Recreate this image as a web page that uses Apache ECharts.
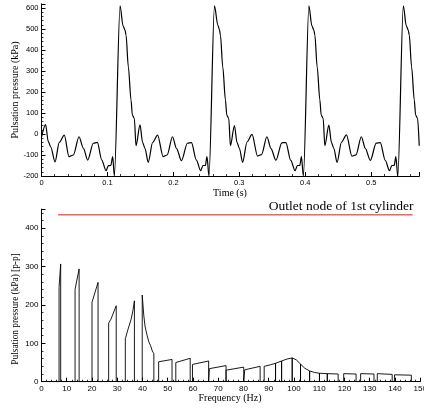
<!DOCTYPE html>
<html>
<head>
<meta charset="utf-8">
<script src="https://cdn.jsdelivr.net/npm/echarts@6/dist/echarts.min.js"></script>
<style>
  html, body { margin: 0; padding: 0; background: #fff; }
  #chart { width: 424px; height: 408px; }
</style>
</head>
<body>
<div id="chart"></div>
<script>
// Pressure pulsation at the outlet node, time history (s, kPa)
const timeS = [
  0.0000, 0.0062, 0.0102, 0.0140, 0.0205, 0.0270, 0.0346, 0.0417, 0.0483, 0.0569,
  0.0634, 0.0701, 0.0786, 0.0847, 0.0914, 0.0979, 0.1014, 0.1050, 0.1080, 0.1105,
  0.1192, 0.1237, 0.1267, 0.1282, 0.1317, 0.1358, 0.1378, 0.1408, 0.1433, 0.1494,
  0.1534, 0.1569, 0.1619, 0.1685, 0.1761, 0.1845, 0.1905, 0.1987, 0.2047, 0.2123,
  0.2213, 0.2274, 0.2349, 0.2414, 0.2449, 0.2485, 0.2510, 0.2540,
  0.2624, 0.2674, 0.2699, 0.2714, 0.2749, 0.2790, 0.2810, 0.2840, 0.2865, 0.2926,
  0.2966, 0.3001, 0.3051, 0.3117, 0.3193, 0.3277, 0.3337, 0.3419, 0.3479, 0.3555,
  0.3645, 0.3706, 0.3781, 0.3846, 0.3881, 0.3917, 0.3942, 0.3972,
  0.4056, 0.4101, 0.4131, 0.4146, 0.4181, 0.4222, 0.4242, 0.4272, 0.4297, 0.4358,
  0.4398, 0.4433, 0.4483, 0.4549, 0.4625, 0.4709, 0.4769, 0.4851, 0.4911, 0.4987,
  0.5077, 0.5138, 0.5213, 0.5278, 0.5313, 0.5349, 0.5374, 0.5404,
  0.5488, 0.5533, 0.5563, 0.5578, 0.5613, 0.5654, 0.5674, 0.5704, 0.5729
];
const pressureKPa = [
  -15, 45, -35, -62, -133, -40, -5, -108, -100, -13,
  -67, -124, -44, -40, -124, -175, -151, -150, -108, -200,
  610, 515, 495, 471, 320, 162, 90, 75, -56, 43,
  -41, -68, -135, -41, -5, -108, -100, -13, -68, -127,
  -44, -41, -124, -175, -150, -150, -108, -200,
  610, 519, 497, 471, 320, 162, 90, 75, -56, 40,
  -41, -68, -135, -38, -2, -105, -98, -13, -68, -125,
  -42, -41, -126, -175, -150, -150, -108, -200,
  610, 515, 495, 471, 320, 162, 90, 75, -56, 42,
  -41, -68, -135, -40, -4, -106, -99, -13, -68, -126,
  -43, -41, -125, -175, -150, -150, -108, -200,
  610, 515, 495, 471, 320, 162, 90, 75, -56
];

// Peak-to-peak spectrum (Hz, kPa)
const freqHz = [
  0,
  6.96, 6.96, 7.6, 7.6,
  13.3, 13.3, 14.9, 14.9,
  20.0, 20.0, 22.4, 22.4,
  26.6, 26.6, 27.5, 29.6, 29.6,
  33.2, 33.2, 34.2, 35.5, 36.2, 36.8, 36.8,
  39.9, 39.9, 40.2, 40.5, 41.0, 41.7, 42.5, 43.2, 43.9, 44.5, 44.5,
  46.4, 46.4, 51.7, 51.7,
  53.2, 53.2, 58.9, 58.9,
  59.8, 59.8, 66.2, 66.2,
  66.5, 66.5, 73.1, 73.1,
  73.1, 80.1, 80.1,
  80.5, 80.5, 86.6, 86.6,
  88.2, 88.2, 90.6, 92.7, 92.7,
  92.7, 95.1, 95.1,
  95.1, 97.2, 99.3, 99.3,
  99.3, 100.9, 102.6, 102.6,
  102.6, 104.3, 106.2, 106.2,
  106.2, 108.2, 110.1, 110.1,
  110.1, 113.2, 113.2, 113.2, 117.5, 117.5,
  119.7, 119.7, 124.6, 124.6,
  126.4, 126.4, 131.7, 131.7,
  133.0, 133.0, 138.9, 138.9,
  139.8, 139.8, 146.5, 146.5,
  150
];
const ampKPa = [
  0,
  0, 246, 307, 0,
  0, 241, 294, 0,
  0, 207, 259, 0,
  0, 153, 163, 198, 0,
  0, 112, 135, 163, 185, 211, 0,
  0, 226, 200, 174, 145, 124, 104, 94, 80, 73, 0,
  0, 52, 58, 0,
  0, 50, 61, 0,
  0, 45, 54, 0,
  0, 34, 42, 0,
  30, 38, 0,
  0, 31, 40, 0,
  0, 40, 44, 48, 0,
  48, 54, 0,
  54, 59, 62, 0,
  62, 57, 46, 0,
  46, 35, 28, 0,
  28, 24, 22, 0,
  22, 21, 0, 21, 20, 0,
  0, 21, 20, 0,
  0, 21, 20, 0,
  0, 21, 19, 0,
  0, 18, 17, 0,
  0
];

// Reference level across the spectrum (Hz, kPa)
const limitHz = [6.6, 147.0];
const limitKPa = [435, 435];

const serif = '"Liberation Serif", "Times New Roman", serif';
const sans = '"Liberation Sans", Arial, sans-serif';

function pairs(xs, ys) {
  return xs.map((x, i) => [x, ys[i]]);
}

function axisStyle(labelSize, showMax) {
  return {
    axisLine: { show: true, onZero: false, lineStyle: { color: '#000', width: 1 } },
    axisTick: { show: true, inside: true, length: 4, lineStyle: { color: '#000', width: 1 } },
    minorTick: { show: true, splitNumber: 5, length: 2, lineStyle: { color: '#000', width: 0.8 } },
    splitLine: { show: false },
    minorSplitLine: { show: false },
    axisLabel: { color: '#000', fontFamily: sans, fontSize: labelSize, margin: 3, showMaxLabel: !!showMax }
  };
}

const chart = echarts.init(document.getElementById('chart'), null, { renderer: 'canvas' });

chart.setOption({
  animation: false,
  backgroundColor: '#fff',
  grid: [
    { left: 41.5, right: 4.7, top: 3.8, height: 172.2, outerBoundsMode: 'none', containLabel: false },
    { left: 41.5, right: 3.8, top: 209.1, height: 172.6, outerBoundsMode: 'none', containLabel: false }
  ],
  xAxis: [
    Object.assign({ type: 'value', gridIndex: 0, min: 0, max: 0.573, interval: 0.1 }, axisStyle(7.5, false)),
    Object.assign({ type: 'value', gridIndex: 1, min: 0, max: 150, interval: 10 }, axisStyle(8, true))
  ],
  yAxis: [
    Object.assign({ type: 'value', gridIndex: 0, min: -200, max: 620, interval: 100 }, axisStyle(7.5, false)),
    Object.assign({ type: 'value', gridIndex: 1, min: 0, max: 450, interval: 100 }, axisStyle(8, false))
  ],
  series: [
    {
      type: 'line', xAxisIndex: 0, yAxisIndex: 0,
      data: pairs(timeS, pressureKPa),
      showSymbol: false, smooth: 0.3, smoothMonotone: 'x',
      lineStyle: { color: '#000', width: 1.2 }
    },
    {
      type: 'line', xAxisIndex: 1, yAxisIndex: 1,
      data: pairs(freqHz, ampKPa),
      showSymbol: false,
      lineStyle: { color: '#000', width: 0.9 }
    },
    {
      type: 'line', xAxisIndex: 1, yAxisIndex: 1,
      data: pairs(limitHz, limitKPa),
      showSymbol: false,
      lineStyle: { color: '#c0261c', width: 1 }
    }
  ],
  graphic: [
    { type: 'text', x: 15.5, y: 90, rotation: Math.PI / 2,
      style: { text: 'Pulsation pressure (kPa)', font: '10px ' + serif, fill: '#000', textAlign: 'center', textVerticalAlign: 'middle' } },
    { type: 'text', x: 230, y: 193,
      style: { text: 'Time (s)', font: '10px ' + serif, fill: '#000', textAlign: 'center', textVerticalAlign: 'middle' } },
    { type: 'text', x: 16, y: 309, rotation: Math.PI / 2,
      style: { text: 'Pulsation pressure (kPa) [p-p]', font: '9.3px ' + serif, fill: '#000', textAlign: 'center', textVerticalAlign: 'middle' } },
    { type: 'text', x: 230, y: 398,
      style: { text: 'Frequency (Hz)', font: '10px ' + serif, fill: '#000', textAlign: 'center', textVerticalAlign: 'middle' } },
    { type: 'text', x: 413.5, y: 206,
      style: { text: 'Outlet node of 1st cylinder', font: '13.5px ' + serif, fill: '#000', textAlign: 'right', textVerticalAlign: 'middle' } }
  ]
});
</script>
</body>
</html>
